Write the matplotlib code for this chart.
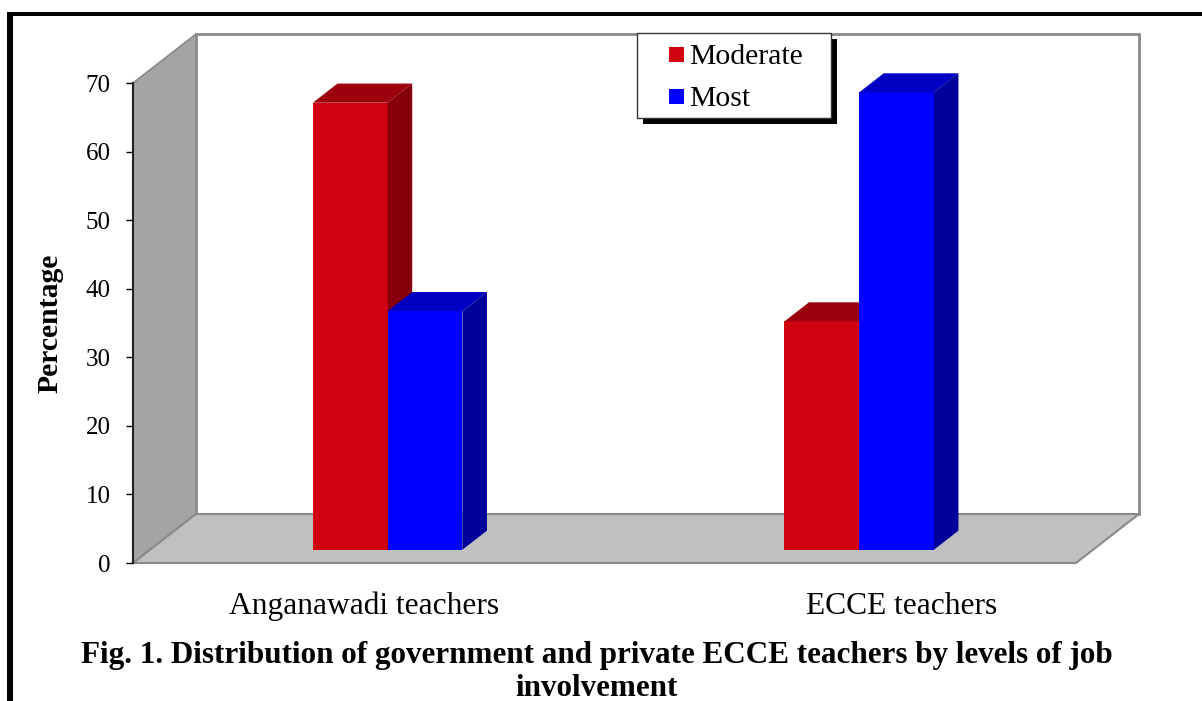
import matplotlib.pyplot as plt
from matplotlib.patches import Polygon, Rectangle

plt.rcParams["font.family"] = ["Liberation Serif", "DejaVu Serif"]

# data
categories = ["Anganawadi teachers", "ECCE teachers"]
series = ["Moderate", "Most"]
moderate = [65.2, 33.3]
most = [34.8, 66.7]
yticks = [0, 10, 20, 30, 40, 50, 60, 70]

FRONT = {"Moderate": "#D00210", "Most": "#0000FF"}
TOP = {"Moderate": "#9B000C", "Most": "#0000C4"}
SIDE = {"Moderate": "#85000A", "Most": "#00009A"}
WALL = "#A4A4A4"
FLOOR = "#C0C0C0"
EDGE = "#8A8A8A"

W, H = 1202, 701
fig = plt.figure(figsize=(W / 100, H / 100), dpi=100)
fig.patch.set_facecolor("white")


def fx(px):
    return px / W


def fy(py):
    return 1 - py / H


# front plane of the 3d box, in pixels: x 133..1076, y 563..83
ax = fig.add_axes([fx(133), fy(563), fx(1076) - fx(133), fy(83) - fy(563)])
ax.set_xlim(0, 2)
ax.set_ylim(0, 70)
ax.patch.set_alpha(0)

# depth of walls in data units
px_x = 943 / 2.0
px_y = 480 / 70.0
DX = 63 / px_x
DY = 49 / px_y

# walls and floor
ax.add_patch(Polygon([(DX, DY), (2 + DX, DY), (2 + DX, 70 + DY), (DX, 70 + DY)],
                     closed=True, fc="white", ec=EDGE, lw=2, zorder=0.5, clip_on=False))
ax.add_patch(Polygon([(0, 0), (DX, DY), (DX, 70 + DY), (0, 70)],
                     closed=True, fc=WALL, ec=EDGE, lw=1.2, zorder=0.6, clip_on=False))
ax.add_patch(Polygon([(0, 0), (2, 0), (2 + DX, DY), (DX, DY)],
                     closed=True, fc=FLOOR, ec=EDGE, lw=1.5, zorder=0.7, clip_on=False))

# bars
f0 = 0.27
fd = 0.39
offx, offy = f0 * DX, f0 * DY
bdx, bdy = fd * DX, fd * DY
bw = 0.1585
values = {"Moderate": moderate, "Most": most}

z = 2
for i, cat in enumerate(categories):
    center = i + 0.5 + offx + 0.004
    for j, s in enumerate(series):
        x = center + (j - 0.5) * bw
        v = values[s][i]
        ax.bar(x, v, bw, bottom=offy, color=FRONT[s], zorder=z, clip_on=False)
        top = offy + v
        ax.add_patch(Polygon([(x - bw / 2, top), (x + bw / 2, top),
                              (x + bw / 2 + bdx, top + bdy), (x - bw / 2 + bdx, top + bdy)],
                             closed=True, fc=TOP[s], ec="none", zorder=z, clip_on=False))
        ax.add_patch(Polygon([(x + bw / 2, offy), (x + bw / 2 + bdx, offy + bdy),
                              (x + bw / 2 + bdx, top + bdy), (x + bw / 2, top)],
                             closed=True, fc=SIDE[s], ec="none", zorder=z, clip_on=False))
        z += 1

# axes styling
for side in ["top", "right", "bottom"]:
    ax.spines[side].set_visible(False)
ax.spines["left"].set_color("#222222")
ax.spines["left"].set_linewidth(1.5)
ax.spines["left"].set_zorder(1)
ax.set_yticks(yticks)
ax.set_yticklabels([str(t) for t in yticks])
ax.tick_params(axis="y", direction="out", length=5, width=1, pad=11, labelsize=18, colors="black")
ax.set_xticks([])

# category labels (Excel puts them a bit off the category centres)
label_px = [364, 902]
for name, px in zip(categories, label_px):
    fig.text(fx(px), fy(606), name, ha="center", va="center", fontsize=22.7)

# y label
fig.text(fx(50), fy(323), "Percentage", rotation=90, ha="center", va="center",
         fontsize=21.3, fontweight="bold")

# legend (manual, with hard shadow)
fig.add_artist(Rectangle((fx(643), fy(124)), fx(831) - fx(637), fy(33) - fy(118),
                         transform=fig.transFigure, fc="black", ec="black", lw=0))
fig.add_artist(Rectangle((fx(637), fy(118)), fx(831) - fx(637), fy(33) - fy(118),
                         transform=fig.transFigure, fc="white", ec="#333333", lw=1))
for s, yc in zip(series, [54, 96.5]):
    fig.add_artist(Rectangle((fx(669), fy(yc + 7.5)), fx(15), 15 / H,
                             transform=fig.transFigure, fc=FRONT[s], ec="none"))
    fig.text(fx(689), fy(yc + 3), s, ha="left", va="center", fontsize=21.3)

# caption
fig.text(fx(597), fy(655), "Fig. 1. Distribution of government and private ECCE teachers by levels of job",
         ha="center", va="center", fontsize=22.4, fontweight="bold")
fig.text(fx(597), fy(688), "involvement", ha="center", va="center", fontsize=22.4, fontweight="bold")

# outer frame
fig.add_artist(Rectangle((fx(7), 0), fx(6), fy(12), transform=fig.transFigure, fc="black", ec="none"))
fig.add_artist(Rectangle((fx(7), fy(16)), 1 - fx(7), 4 / H, transform=fig.transFigure, fc="black", ec="none"))

fig.savefig("out.png", dpi=100, facecolor="white")
